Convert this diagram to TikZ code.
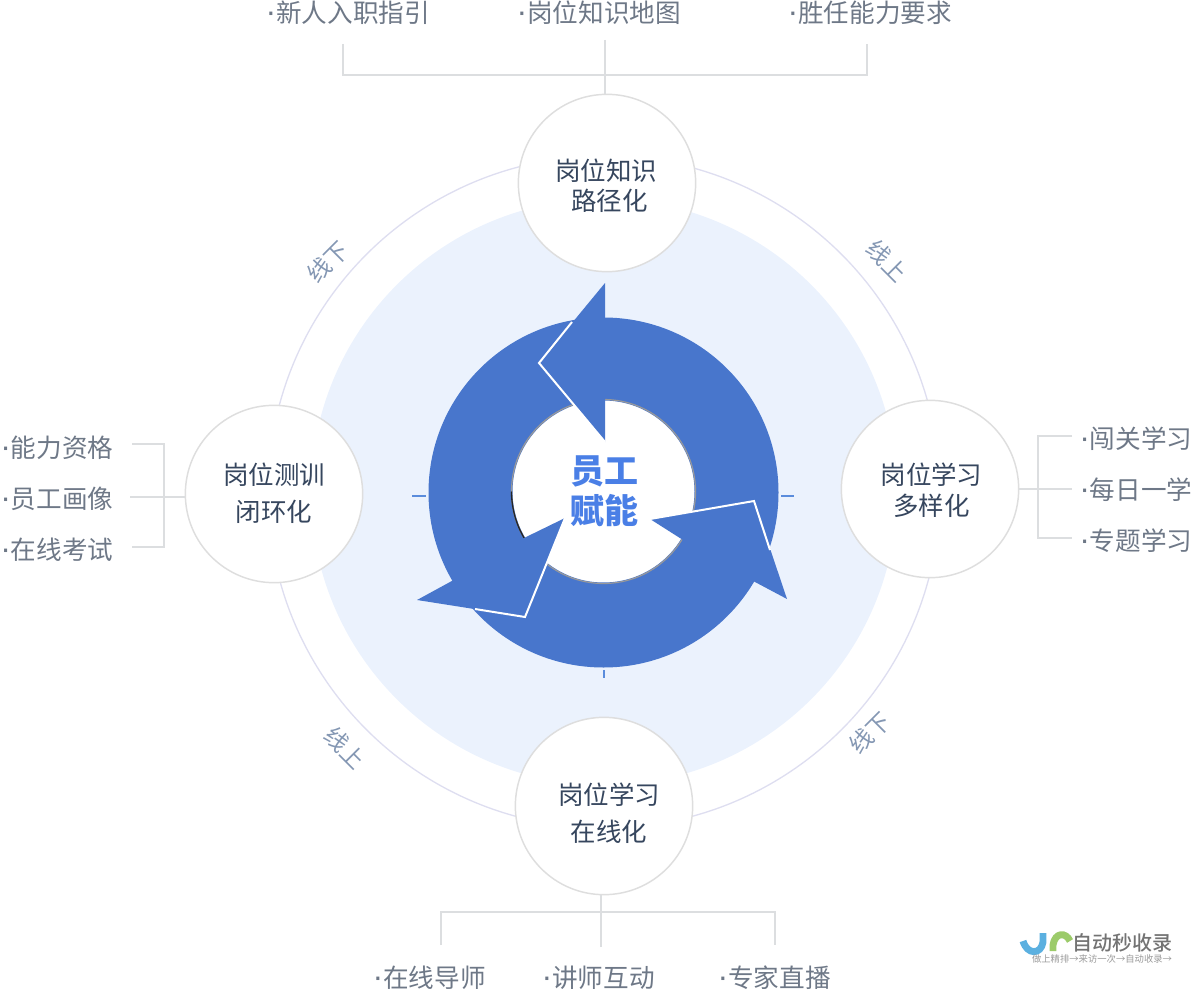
\documentclass[tikz,border=0pt]{standalone}
\usepackage{fontspec}
\setmainfont{Noto Sans CJK SC}
\newfontfamily\cjkbold{Noto Sans CJK SC Black}
\newfontfamily\cjkmed{Noto Sans CJK SC Medium}
\newfontfamily\dotfont{Liberation Sans}
\definecolor{palebg}{HTML}{EBF2FD}
\definecolor{ringc}{HTML}{DEDEF0}
\definecolor{bluea}{HTML}{4876CC}
\definecolor{tickc}{HTML}{5A8CDC}
\definecolor{centerc}{HTML}{4A7FE6}
\definecolor{darkt}{HTML}{36465E}
\definecolor{greyt}{HTML}{6E7887}
\definecolor{onlinec}{HTML}{8497B3}
\definecolor{brk}{HTML}{DCDEE0}
\newcommand{\itemdot}{{\fontsize{24}{22}\dotfont ·}}
\tikzset{
  stage/.style={circle,draw=black!13,line width=1.1pt,fill=white,minimum size=133pt,inner sep=0pt},
  stagetext/.style={align=center,text=darkt,inner sep=0pt},
  item/.style={text=greyt,font=\fontsize{19.2}{22}\selectfont,inner sep=0pt,anchor=west},
  modetag/.style={text=onlinec,font=\fontsize{17.5}{20}\selectfont,inner sep=0pt},
  bracket/.style={draw=brk,line width=1.5pt},
  headarrow/.style={fill=bluea,draw=none},
  headedge/.style={draw=white,line width=1.5pt,line join=miter},
  tickmark/.style={draw=tickc,line width=1.2pt},
}
\begin{document}
\begin{tikzpicture}[x=0.75pt,y=-0.75pt]
\useasboundingbox (0,0) rectangle (1191,991);
\fill[palebg] (604,492) circle[radius=293];
\draw[ringc,line width=1pt] (604,492) circle[radius=336];
% ticks
\draw[tickmark] (412,496) -- (426,496);
\draw[tickmark] (781,496) -- (794,496);
\draw[tickmark] (604,670) -- (604,678);
% ring
\fill[white] (603.5,491.5) circle[radius=92];
\fill[bluea,even odd rule] (603.5,492.5) circle[radius=175] (603.5,491.5) circle[radius=91];
\draw[black!40,line width=0.9pt] (603.5,491.5) circle[radius=92];
\draw[black!85,line width=1pt] (603.5,491.5) ++(180:92) arc[start angle=180,end angle=145,radius=92];
% heads
\fill[headarrow] (605,283) -- (539,363) -- (605,442) -- cycle;
\draw[headedge] (572,322) -- (539,363) -- (605,442);
\fill[headarrow] (787,599) -- (754,501) -- (650,519) -- (683,540) -- (755,582) -- cycle;
\draw[headedge] (650,519) -- (754,501) -- (770,550);
\fill[headarrow] (417,600) -- (525,617) -- (565,518) -- (524,538) -- (450,582) -- cycle;
\draw[headedge] (475,609) -- (525,617) -- (565,518);
% centre text
\node (hub) at (604,491) [text=centerc,align=center,inner sep=0pt,font=\fontsize{25.5}{30}\cjkbold] {员工\\赋能};
% stages
\node[stage] (top) at (607,183) {};
\node[stage] (right) at (930,489) {};
\node[stage] (bottom) at (604,806) {};
\node[stage] (left) at (274,494) {};
\node[stagetext,font=\fontsize{19.1}{22.5}\selectfont] (toptext) at (606,186) {岗位知识\\\hspace*{5pt}路径化};
\node[stagetext,font=\fontsize{19.1}{23.25}\selectfont] (righttext) at (931.5,490.5) {岗位学习\\多样化};
\node[stagetext,font=\fontsize{19.1}{27.75}\selectfont] (bottomtext) at (609,813) {岗位学习\\在线化};
\node[stagetext,font=\fontsize{19.1}{27.75}\selectfont] (lefttext) at (274,493) {岗位测训\\闭环化};
% mode tags
\node[modetag,rotate=45] (m1) at (328,262) {线下};
\node[modetag,rotate=-45] (m2) at (887,261) {线上};
\node[modetag,rotate=-45] (m3) at (345,748) {线上};
\node[modetag,rotate=45] (m4) at (870,733) {线下};
% items
\node[item] (t1) at (265.3,13) {\itemdot 新人入职指引};
\node[item] (t2) at (516.3,13) {\itemdot 岗位知识地图};
\node[item] (t3) at (787.3,13) {\itemdot 胜任能力要求};
\node[item] (r1) at (1079,438.5) {\itemdot 闯关学习};
\node[item] (r2) at (1079,490) {\itemdot 每日一学};
\node[item] (r3) at (1079,541) {\itemdot 专题学习};
\node[item] (l1) at (0,447.5) {\itemdot 能力资格};
\node[item] (l2) at (0,499) {\itemdot 员工画像};
\node[item] (l3) at (0,550) {\itemdot 在线考试};
\node[item] (b1) at (372.3,978) {\itemdot 在线导师};
\node[item] (b2) at (541.3,978) {\itemdot 讲师互动};
\node[item] (b3) at (717.3,978) {\itemdot 专家直播};
% brackets
\coordinate (ct1) at (343,44); \coordinate (ct2) at (605,40); \coordinate (ct3) at (867,44);
\draw[bracket] (ct1) -- (343,75) -- (867,75) -- (ct3);
\draw[bracket] (ct2) -- (top.north -| ct2);
\coordinate (cr1) at (1072,436); \coordinate (cr2) at (1072,489); \coordinate (cr3) at (1072,538);
\draw[bracket] (cr1) -- (1038,436) -- (1038,538) -- (cr3);
\draw[bracket] (right.east) -- (cr2);
\coordinate (cl1) at (132,444); \coordinate (cl2) at (130,497); \coordinate (cl3) at (132,547);
\draw[bracket] (cl1) -- (164,444) -- (164,547) -- (cl3);
\draw[bracket] (cl2) -- (left.west |- cl2);
\coordinate (cb1) at (441,945); \coordinate (cb2) at (601,947); \coordinate (cb3) at (775,945);
\draw[bracket] (cb1) -- (441,912) -- (775,912) -- (cb3);
\draw[bracket] (cb2) -- (cb2 |- bottom.south);
% logo
\definecolor{logoblue}{HTML}{5BB0E0}
\definecolor{logogreen}{HTML}{9CCB6A}
\draw[color=logoblue,line width=5.2pt] (1023,941) .. controls (1027,955) and (1041,955) .. (1043,942) -- (1043,933);
\draw[color=logogreen,line width=5.2pt] (1053,951) -- (1053,945) .. controls (1055,932) and (1066,932) .. (1070,941);
\node[inner sep=0pt,text=black!55] (logo) at (1122,943) {\fontsize{15}{16}\cjkmed 自动秒收录};
\node[inner sep=0pt,text=black!40] (logosub) at (1102,959) {\fontsize{7}{8}\selectfont 做上精排→来访一次→自动收录→};
\end{tikzpicture}
\end{document}
